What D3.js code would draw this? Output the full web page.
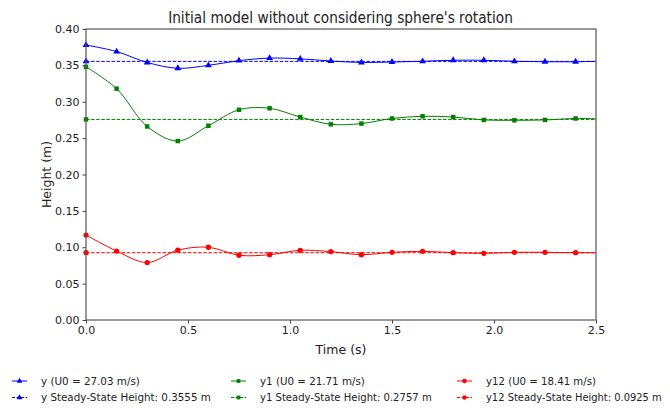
<!DOCTYPE html>
<html>
<head>
<script src="https://d3js.org/d3.v7.min.js"></script>
<style>
  body { margin: 0; background: #fff; }
  text { font-family: "DejaVu Sans", sans-serif; fill: #222; }
</style>
</head>
<body>
<svg id="chart"></svg>
<script>
// time samples (markers every 0.15 s, curve runs on to 2.5 s)
var times = [0, 0.15, 0.3, 0.45, 0.6, 0.75, 0.9, 1.05, 1.2, 1.35, 1.5, 1.65, 1.8, 1.95, 2.1, 2.25, 2.4, 2.5];
var yVals   = [0.378, 0.369, 0.354, 0.346, 0.350, 0.3565, 0.360, 0.359, 0.356, 0.354, 0.3546, 0.3556, 0.357, 0.357, 0.3556, 0.355, 0.355, 0.3555];
var y1Vals  = [0.348, 0.318, 0.266, 0.246, 0.267, 0.289, 0.291, 0.279, 0.269, 0.270, 0.277, 0.280, 0.279, 0.275, 0.2745, 0.275, 0.277, 0.2765];
var y12Vals = [0.1168, 0.0948, 0.079, 0.096, 0.100, 0.089, 0.0898, 0.0958, 0.094, 0.0898, 0.093, 0.0944, 0.0925, 0.0916, 0.093, 0.093, 0.0925, 0.0925];
var steady = [0.3555, 0.2757, 0.0925];
var seriesNames = ["y", "y1", "y12"];
var u0 = ["27.03", "21.71", "18.41"];
var xTicks = [0, 0.5, 1.0, 1.5, 2.0, 2.5];
var yTicks = [0, 0.05, 0.10, 0.15, 0.20, 0.25, 0.30, 0.35, 0.40];

var W = 670, H = 408;
var margin = {top: 29, right: 74, bottom: 88, left: 86};
var width = W - margin.left - margin.right,
    height = H - margin.top - margin.bottom;

var colors = ["#0000ff", "#008000", "#ff0000"];
var shapes = [d3.symbolTriangle, d3.symbolSquare, d3.symbolCircle];
var sizes = [20, 20, 22];
var allVals = [yVals, y1Vals, y12Vals];

var svg = d3.select("#chart").attr("width", W).attr("height", H);

var x = d3.scaleLinear().domain([0, 2.5]).range([0, width]);
var y = d3.scaleLinear().domain([0, 0.40]).range([height, 0]);

var g = svg.append("g").attr("transform", "translate(" + margin.left + "," + margin.top + ")");

// put a text at (tx, ty) squeezed horizontally to width w
function squeezed(parent, tx, ty, w, size, anchor, str) {
  var t = parent.append("text").attr("font-size", size).attr("text-anchor", anchor).text(str);
  var k = w / t.node().getComputedTextLength();
  t.attr("transform", "translate(" + tx + "," + ty + ") scale(" + k + ",1)");
  return t;
}

// axes
var xAxis = d3.axisBottom(x).tickValues(xTicks).tickFormat(d3.format(".1f")).tickSize(3.5).tickPadding(3);
var yAxis = d3.axisLeft(y).tickValues(yTicks).tickFormat(d3.format(".2f")).tickSize(3.5).tickPadding(3);

g.append("g").attr("transform", "translate(0," + height + ")").call(xAxis)
  .call(function(a){ a.select(".domain").remove(); a.selectAll("line").attr("stroke", "#444"); a.selectAll("text").attr("font-size", "11px").attr("fill", "#222"); });
g.append("g").call(yAxis)
  .call(function(a){ a.select(".domain").remove(); a.selectAll("line").attr("stroke", "#444"); a.selectAll("text").attr("font-size", "11px").attr("fill", "#222"); });

// clip for lines
g.append("clipPath").attr("id", "clip").append("rect").attr("width", width).attr("height", height);

var line = d3.line()
  .x(function(d){ return x(d[0]); })
  .y(function(d){ return y(d[1]); })
  .curve(d3.curveCatmullRom.alpha(0.5));

var plot = g.append("g").attr("clip-path", "url(#clip)");

allVals.forEach(function(vals, k) {
  var pts = times.map(function(t, i){ return [t, vals[i]]; });
  // steady-state dashed line
  plot.append("line")
    .attr("x1", x(0)).attr("x2", x(2.5))
    .attr("y1", y(steady[k])).attr("y2", y(steady[k]))
    .attr("stroke", colors[k]).attr("stroke-width", 1)
    .attr("stroke-dasharray", "3.5,1.6");
  plot.append("path").datum(pts)
    .attr("d", line).attr("fill", "none")
    .attr("stroke", colors[k]).attr("stroke-width", 1);
});

allVals.forEach(function(vals, k) {
  var pts = times.slice(0, times.length - 1).map(function(t, i){ return [t, vals[i]]; });
  g.selectAll(".m" + k).data(pts).enter().append("path")
    .attr("class", "m" + k)
    .attr("d", d3.symbol().type(shapes[k]).size(sizes[k]))
    .attr("transform", function(d){ return "translate(" + x(d[0]) + "," + y(d[1]) + ")"; })
    .attr("fill", colors[k]);
  // steady-state marker at start
  g.append("path")
    .attr("d", d3.symbol().type(shapes[k]).size(sizes[k]))
    .attr("transform", "translate(" + x(0) + "," + y(steady[k]) + ")")
    .attr("fill", colors[k]);
});

// frame
g.append("rect").attr("width", width).attr("height", height)
  .attr("fill", "none").attr("stroke", "#555").attr("stroke-width", 1.2);

// title and axis labels
squeezed(svg, 340.5, 23, 345, "15px", "middle", "Initial model without considering sphere's rotation");
svg.append("text").attr("x", margin.left + width / 2).attr("y", 354).attr("text-anchor", "middle")
  .attr("font-size", "12.5px").text("Time (s)");
svg.append("text").attr("transform", "translate(51," + (margin.top + height / 2) + ") rotate(-90)")
  .attr("text-anchor", "middle").attr("font-size", "12.5px").text("Height (m)");

// legend
var legX = [12, 231, 457];
var legW = [[99, 170], [105, 172], [110, 176]];
var legend = svg.append("g");
seriesNames.forEach(function(nm, k) {
  var lx = legX[k];
  [381, 397.5].forEach(function(ly, r) {
    legend.append("line").attr("x1", lx).attr("x2", lx + 15).attr("y1", ly).attr("y2", ly)
      .attr("stroke", colors[k]).attr("stroke-width", 1)
      .attr("stroke-dasharray", r === 1 ? "3,1.5" : null);
    legend.append("path").attr("d", d3.symbol().type(shapes[k]).size(sizes[k] - 6))
      .attr("transform", "translate(" + (lx + 7.5) + "," + ly + ")").attr("fill", colors[k]);
    var label = r === 0 ? nm + " (U0 = " + u0[k] + " m/s)"
                        : nm + " Steady-State Height: " + steady[k].toFixed(4) + " m";
    squeezed(legend, lx + 29, ly + 3.5, legW[k][r], "10.5px", "start", label);
  });
});
</script>
</body>
</html>
